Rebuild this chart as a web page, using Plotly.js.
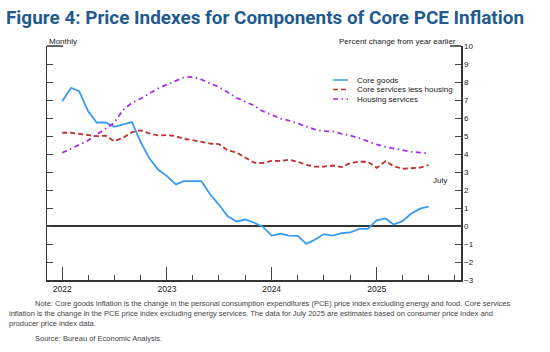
<!DOCTYPE html>
<html>
<head>
<meta charset="utf-8">
<script src="https://cdn.plot.ly/plotly-3.0.1.min.js"></script>
<style>html,body{margin:0;padding:0;background:#fff;}#chart{width:550px;height:352px;}</style>
</head>
<body>
<div id="chart"></div>
<script>
// ---- Data ----
const months = [
  '2022-01-01','2022-02-01','2022-03-01','2022-04-01','2022-05-01','2022-06-01',
  '2022-07-01','2022-08-01','2022-09-01','2022-10-01','2022-11-01','2022-12-01',
  '2023-01-01','2023-02-01','2023-03-01','2023-04-01','2023-05-01','2023-06-01',
  '2023-07-01','2023-08-01','2023-09-01','2023-10-01','2023-11-01','2023-12-01',
  '2024-01-01','2024-02-01','2024-03-01','2024-04-01','2024-05-01','2024-06-01',
  '2024-07-01','2024-08-01','2024-09-01','2024-10-01','2024-11-01','2024-12-01',
  '2025-01-01','2025-02-01','2025-03-01','2025-04-01','2025-05-01','2025-06-01',
  '2025-07-01'
];
const coreGoods = [
  6.93, 7.68, 7.49, 6.38, 5.75, 5.75, 5.51, 5.64, 5.77, 4.68, 3.76, 3.14,
  2.77, 2.31, 2.49, 2.49, 2.49, 1.75, 1.19, 0.54, 0.25, 0.36, 0.18, -0.04,
  -0.53, -0.42, -0.53, -0.55, -0.99, -0.75, -0.45, -0.53, -0.40, -0.36, -0.16, -0.16,
  0.31, 0.42, 0.08, 0.27, 0.68, 0.96, 1.07
];
const coreServicesLessHousing = [
  5.18, 5.18, 5.12, 5.05, 4.99, 5.02, 4.71, 4.90, 5.21, 5.31, 5.14, 5.03,
  5.05, 4.99, 4.84, 4.77, 4.66, 4.58, 4.55, 4.20, 4.08, 3.80, 3.52, 3.50,
  3.62, 3.62, 3.68, 3.57, 3.40, 3.30, 3.30, 3.36, 3.27, 3.50, 3.57, 3.57,
  3.23, 3.60, 3.33, 3.18, 3.22, 3.24, 3.38
];
const housingServices = [
  4.07, 4.30, 4.53, 4.75, 5.08, 5.40, 5.73, 6.45, 6.84, 7.07, 7.36, 7.64,
  7.86, 8.08, 8.25, 8.29, 8.14, 7.92, 7.73, 7.43, 7.12, 6.90, 6.69, 6.38,
  6.16, 5.97, 5.86, 5.69, 5.55, 5.36, 5.27, 5.25, 5.12, 5.03, 4.88, 4.69,
  4.53, 4.40, 4.31, 4.23, 4.12, 4.08, 4.03
];
const seriesNames = ['Core goods', 'Core services less housing', 'Housing services'];
const seriesColors = ['#3a9af2', '#c0302c', '#a52cf0'];
const seriesDash = ['solid', '5px,3px', '5px,3.5px,1.5px,3.5px'];

const titleText = 'Figure 4: Price Indexes for Components of Core PCE Inflation';
const noteLines = [
  'Note: Core goods inflation is the change in the personal consumption expenditures (PCE) price index excluding energy and food. Core services',
  'inflation is the change in the PCE price index excluding energy services. The data for July 2025 are estimates based on consumer price index and',
  'producer price index data.'
];
const sourceText = 'Source: Bureau of Economic Analysis.';

// ---- Layout geometry (pixels) ----
const W = 550, H = 352;
const M = {l: 47, r: 89, t: 46, b: 72};
const PW = W - M.l - M.r, PH = H - M.t - M.b;
const px = x => (x - M.l) / PW;         // pixel x -> paper x
const py = y => (H - M.b - y) / PH;     // pixel y -> paper y

const values = [coreGoods, coreServicesLessHousing, housingServices];
const traces = values.map((v, i) => ({
  x: months, y: v, type: 'scatter', mode: 'lines', name: seriesNames[i],
  line: {color: seriesColors[i], width: 1.8, dash: seriesDash[i]},
  hoverinfo: 'x+y'
}));

const font = 'Arial, "Liberation Sans", sans-serif';
const shapes = [
  // top caps of the axes
  {type: 'line', xref: 'paper', yref: 'paper', x0: 0, x1: px(63), y0: 1, y1: 1, line: {color: '#333', width: 1.5}},
  {type: 'line', xref: 'paper', yref: 'paper', x0: px(450), x1: 1, y0: 1, y1: 1, line: {color: '#333', width: 1.5}}
];
const legendY = [80, 89.5, 99];
const noteFont = {family: font, size: 7.5, color: '#444'};
const annotations = [
  {text: 'Monthly', xref: 'paper', yref: 'paper', x: 0, y: py(41.5), xanchor: 'left', yanchor: 'middle', showarrow: false, font: {family: font, size: 8, color: '#222'}},
  {text: 'Percent change from year earlier', xref: 'paper', yref: 'paper', x: px(458), y: py(41.5), xanchor: 'right', yanchor: 'middle', showarrow: false, font: {family: font, size: 8, color: '#222'}},
  {text: 'July', xref: 'x', yref: 'y', x: '2025-08-10', y: 2.53, xanchor: 'center', yanchor: 'middle', showarrow: false, font: {family: font, size: 8, color: '#222'}},
  {text: noteLines[0], xref: 'paper', yref: 'paper', x: px(33), y: py(303), xanchor: 'left', yanchor: 'middle', showarrow: false, font: noteFont},
  {text: noteLines[1], xref: 'paper', yref: 'paper', x: px(7), y: py(313), xanchor: 'left', yanchor: 'middle', showarrow: false, font: noteFont},
  {text: noteLines[2], xref: 'paper', yref: 'paper', x: px(7), y: py(323), xanchor: 'left', yanchor: 'middle', showarrow: false, font: noteFont},
  {text: sourceText, xref: 'paper', yref: 'paper', x: px(33), y: py(338), xanchor: 'left', yanchor: 'middle', showarrow: false, font: noteFont}
];
seriesNames.forEach((n, i) => {
  shapes.push({type: 'line', xref: 'paper', yref: 'paper', x0: px(333), x1: px(348), y0: py(legendY[i]), y1: py(legendY[i]),
    line: {color: seriesColors[i], width: 1.5, dash: seriesDash[i]}});
  annotations.push({text: n, xref: 'paper', yref: 'paper', x: px(355), y: py(legendY[i]), xanchor: 'left', yanchor: 'middle',
    showarrow: false, font: {family: font, size: 8, color: '#222'}});
});

const layout = {
  width: W, height: H,
  margin: M,
  paper_bgcolor: '#fff', plot_bgcolor: '#fff',
  showlegend: false,
  title: {
    text: '<b>' + titleText + '</b>',
    x: 6 / W, xanchor: 'left', xref: 'container',
    y: 1 - 17 / H, yanchor: 'middle', yref: 'container',
    font: {family: 'Roboto, "Liberation Sans", sans-serif', size: 18.9, color: '#1f5b90'}
  },
  xaxis: {
    type: 'date',
    range: ['2021-11-09', '2025-10-22'],
    tick0: '2022-01-01', dtick: 'M12', tickformat: '%Y',
    ticks: 'inside', ticklen: 13, tickwidth: 1, tickcolor: '#444',
    minor: {dtick: 'M3', tick0: '2022-01-01', ticks: 'inside', ticklen: 5, tickwidth: 1, tickcolor: '#444', showgrid: false},
    showline: true, linecolor: '#333', linewidth: 1.5,
    showgrid: false, zeroline: false,
    tickfont: {family: font, size: 8.5, color: '#222'}
  },
  yaxis: {
    side: 'right',
    range: [-3, 10], dtick: 1, tick0: 0,
    ticks: 'inside', ticklen: 6, tickwidth: 1, tickcolor: '#444',
    showline: true, mirror: 'ticks', linecolor: '#333', linewidth: 1.5,
    showgrid: false,
    zeroline: true, zerolinecolor: '#333', zerolinewidth: 1.5,
    tickfont: {family: font, size: 8, color: '#222'}
  },
  shapes: shapes,
  annotations: annotations
};

Plotly.newPlot('chart', traces, layout, {displayModeBar: false, staticPlot: true});
</script>
</body>
</html>
